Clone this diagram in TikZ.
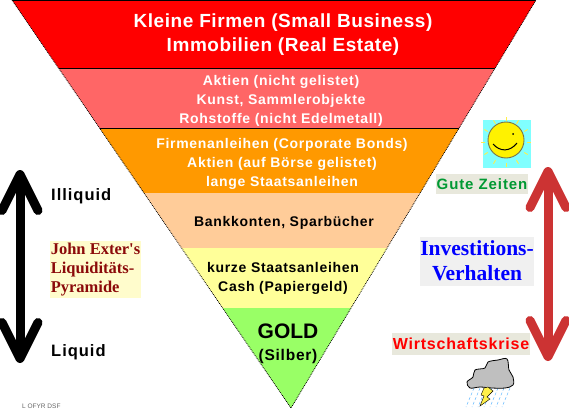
\documentclass[tikz,border=0pt]{standalone}
\usepackage{fontspec}
\usepackage{xcolor}
\usetikzlibrary{positioning,arrows.meta,calc}
\setmainfont{Liberation Sans}
\newfontfamily\serifbold{Liberation Serif}
\newfontfamily\wideA[LetterSpace=3]{Liberation Sans}
\newfontfamily\wideB[LetterSpace=5]{Liberation Sans}
\newfontfamily\wideC[LetterSpace=6]{Liberation Sans}
\definecolor{redBand}{HTML}{FF0000}
\definecolor{salmonBand}{HTML}{FF6666}
\definecolor{orangeBand}{HTML}{FF9900}
\definecolor{peachBand}{HTML}{FFCC99}
\definecolor{yellowBand}{HTML}{FFFF99}
\definecolor{greenBand}{HTML}{99FF66}
\definecolor{downRed}{HTML}{CC3333}
\definecolor{labelGrey}{HTML}{E8E8DC}
\definecolor{rayYellow}{HTML}{FFF04A}
\definecolor{sunSky}{HTML}{80FFFF}
\definecolor{rainBlue}{HTML}{66BBFF}
\definecolor{goodGreen}{HTML}{009933}
\definecolor{exterRed}{HTML}{8B0A0A}

\begin{document}
\begin{tikzpicture}[
    x=1pt, y=-1pt,
    bandtext/.style={align=center, font=\wideB\bfseries\fontsize{14}{19}\selectfont, inner sep=0pt},
    sidelabel/.style={font=\wideC\bfseries\fontsize{16.5}{18}\selectfont, inner sep=0pt},
    tagbox/.style={inner sep=0pt, align=center},
    bigarrow/.style={line width=9pt, {Straight Barb[round,length=36pt,width=36pt]}-{Straight Barb[round,length=36pt,width=36pt]}}
  ]
  \useasboundingbox (0,0) rectangle (569,412);

  \coordinate (tl) at (12,0);
  \coordinate (tr) at (536,0);
  \coordinate (apex) at (291,408);

  % Bands
  \begin{scope}
    \clip (tl)--(tr)--(apex)--cycle;
    \fill[redBand] (0,0) rectangle (569,68);
    \fill[salmonBand] (0,68) rectangle (569,128);
    \fill[orangeBand] (0,128) rectangle (569,193);
    \fill[peachBand] (0,193) rectangle (569,248);
    \fill[yellowBand] (0,248) rectangle (569,308);
    \fill[greenBand] (0,308) rectangle (569,412);
    \draw[line width=0.8pt] (0,0.5)--(569,0.5);
    \draw[line width=0.7pt] (0,68)--(569,68);
    \draw[line width=0.7pt] (0,128)--(569,128);
  \end{scope}
  \draw[densely dotted, line width=0.8pt] (tl)--(apex)--(tr);

  % Band texts
  \node[bandtext, text=white, font=\wideA\bfseries\fontsize{19}{24}\selectfont] (small) at (283,35) {Kleine Firmen (Small Business)\\Immobilien (Real Estate)};
  \node[bandtext, text=white] (mid) at (281,101) {Aktien (nicht gelistet)\\Kunst, Sammlerobjekte\\Rohstoffe (nicht Edelmetall)};
  \node[bandtext, text=white] (bonds) at (282,164) {Firmenanleihen (Corporate Bonds)\\Aktien (auf Börse gelistet)\\lange Staatsanleihen};
  \node[bandtext] (bank) at (284,223) {Bankkonten, Sparbücher};
  \node[bandtext] (cash) at (283,278) {kurze Staatsanleihen\\Cash (Papiergeld)};
  \node[inner sep=0pt, font=\bfseries\fontsize{21}{23}\selectfont] (gold) at (288,331) {GOLD};
  \node[inner sep=0pt, font=\wideB\bfseries\fontsize{15.5}{18}\selectfont, below=10pt of gold] (silber) {(Silber)};

  % Left side
  \coordinate (illtop) at (20,170);
  \coordinate (liqbot) at (20,363);
  \draw[bigarrow, black] (illtop)--(liqbot);
  \node[sidelabel, anchor=west] (illiquid) at (51,196) {Illiquid};
  \node[sidelabel, anchor=west] (liquid) at (51,352) {Liquid};
  \node[tagbox, fill=yellow!20, minimum width=91pt, minimum height=57pt, text=exterRed, font=\serifbold\bfseries\fontsize{16.5}{19}\selectfont, align=left] (exter) at (95.5,269.5) {John Exter's\\Liquiditäts-\\Pyramide};
  \node[inner sep=0pt, font=\fontsize{6.5}{7}\selectfont, text=black!60, anchor=west] (copyr) at (22,406) {L OFYR DSF};

  % Right side
  \coordinate (gutetop) at (548,167);
  \coordinate (krisebot) at (548,361);
  \draw[bigarrow, downRed] (gutetop)--(krisebot);
  \node[tagbox, fill=labelGrey, minimum width=92pt, minimum height=20pt, text=goodGreen, font=\wideC\bfseries\fontsize{15}{17}\selectfont] (gute) at (482,184) {Gute Zeiten};
  \node[tagbox, fill=labelGrey, minimum width=138pt, minimum height=22pt, text=red, font=\wideB\bfseries\fontsize{16}{18}\selectfont] (krise) at (461,344) {Wirtschaftskrise};
  \node[tagbox, fill=black!6, minimum width=114pt, minimum height=49pt, text=blue, font=\serifbold\bfseries\fontsize{21.5}{25}\selectfont] (invest) at (477,261) {Investitions-\\Verhalten};

  % Sun
  \fill[sunSky] (483,120) rectangle (531,168);
  \foreach \a in {0,30,...,330}
    \draw[rayYellow, line width=0.9pt] ($(506,142)+(\a:21)$)--($(506,142)+(\a:25)$);
  \draw[fill=yellow, draw=black!60!yellow, line width=0.9pt] (506,140) circle (18);
  \fill[black] (513,134) circle (1);
  \draw[line width=1pt] (493,144) .. controls (500,152) and (510,152) .. (517,143);

  % Cloud
  \foreach \x in {466,472,...,502}
    \draw[rainBlue, densely dashed, line width=0.5pt] (\x+8,388)--(\x,407);
  \draw[fill=black!25, line width=0.8pt] plot[smooth cycle, tension=0.6] coordinates {(467,382) (473,377) (475,370) (485,368) (488,362) (498,360) (507,359) (509,370) (513,377) (513,385) (505,388) (492,388) (480,387) (470,388)};
  \draw[fill=rayYellow, line width=0.4pt] (488,387)--(493,391)--(487,397)--(490,399)--(480,406)--(484,396)--(481,395)--(484,388)--cycle;
\end{tikzpicture}
\end{document}
